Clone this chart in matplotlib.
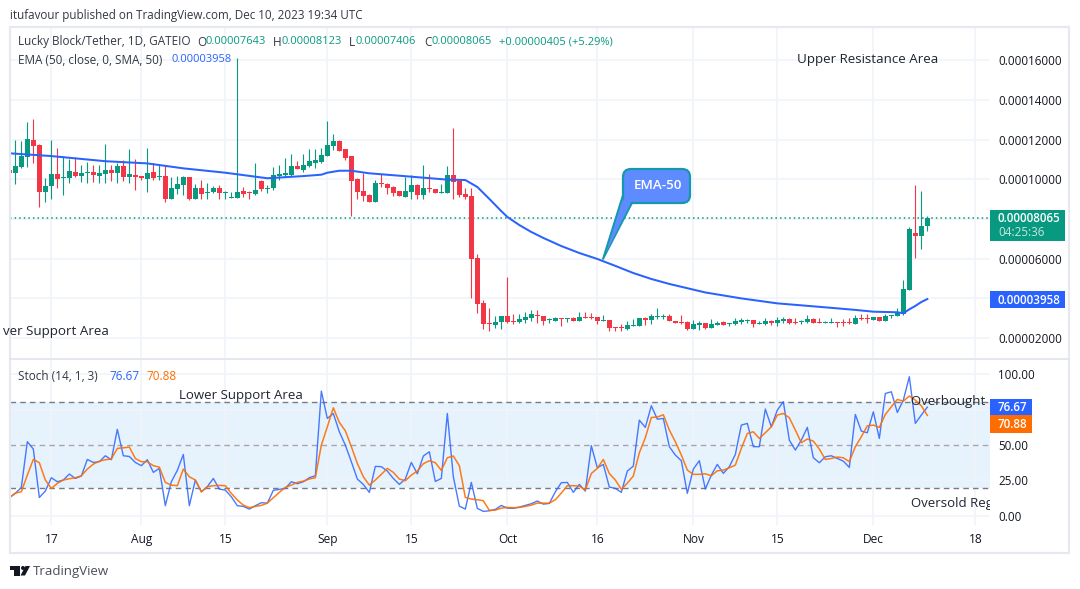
import pandas as pd
import matplotlib
matplotlib.use('Agg')
import matplotlib.pyplot as plt
from matplotlib.patches import Rectangle, Circle, FancyBboxPatch, Polygon

plt.rcParams['font.family'] = 'Open Sans'

W, H = 1080, 589
GREEN = '#089981'
RED = '#F23645'
BLUE = '#2962FF'
ORANGE = '#FF6D00'
GRID = '#F0F3FA'
TXT = '#333844'

# prices in millionths, one row per month, Jul 10 to Dec 10 2023
open_e6 = [104.7,103.3,106.4,111.4,119.8,117.3,93.7,96.8,102.7,100.8,100.6,103.7,101.6,103.3,103.7,101.6,102.7,104.7,103.2,106.7,101.1,102.2,
    101.6,100.1,103.7,101.1,101.6,90.0,95.1,97.1,101.1,90.0,95.6,93.1,93.6,95.6,93.2,90.7,90.5,94.1,93.7,92.6,99.1,95.1,95.6,101.6,102.2,102.2,106.7,104.7,106.7,108.2,108.7,
    111.7,116.8,119.3,115.3,111.7,100.1,94.1,92.1,88.5,98.1,97.6,96.1,94.1,91.1,93.6,97.1,92.1,95.6,95.1,93.2,93.1,102.2,99.1,92.6,91.6,60.3,37.6,27.5,26.5,28.0,
    31.0,28.5,28.0,29.0,30.0,31.5,31.0,29.0,28.5,30.0,29.5,30.0,28.5,30.5,30.5,30.5,28.7,29.0,25.5,25.5,24.5,26.2,26.0,30.0,29.0,30.5,30.7,31.0,28.5,28.0,28.0,
    24.5,26.5,27.5,25.0,26.5,28.0,27.0,27.0,28.0,28.5,29.0,27.2,27.0,28.5,27.5,28.5,29.5,28.0,28.0,28.0,29.5,28.0,27.5,27.5,28.0,28.0,28.0,27.0,30.0,29.8,
    29.0,30.5,28.5,31.0,31.0,32.0,44.2,72.9,71.4,76.43]
close_e6 = [103.3,106.7,111.7,120.3,117.0,93.7,96.6,102.7,100.1,101.1,104.2,101.6,103.2,103.7,102.2,103.2,104.7,103.2,106.7,101.1,102.7,101.1,
    100.6,103.2,100.6,101.6,90.0,95.6,97.6,101.1,90.0,95.6,92.6,93.6,95.6,93.1,93.7,91.1,93.6,92.6,93.2,94.6,95.1,95.6,102.2,102.7,103.2,106.7,105.2,107.2,109.2,109.7,112.2,
    117.3,119.3,114.3,110.7,99.1,93.6,91.6,88.5,98.1,97.6,95.6,93.1,91.6,94.1,97.1,92.1,95.6,95.1,93.1,93.6,102.2,98.6,92.1,91.1,59.8,37.1,27.0,27.0,28.0,31.0,
    28.0,28.0,29.5,30.5,32.0,31.2,28.5,29.5,30.0,29.5,30.0,28.5,30.5,30.0,30.0,28.5,29.0,25.0,25.0,25.0,26.5,26.5,30.0,29.0,31.0,31.0,31.2,28.5,27.5,27.5,24.5,
    27.0,27.5,25.0,27.0,27.5,26.5,27.3,28.5,29.0,29.0,27.0,27.5,28.5,27.5,29.0,29.5,27.5,27.5,28.5,29.5,27.5,27.5,28.0,27.8,27.7,27.5,27.5,30.0,29.5,29.3,
    30.5,28.5,31.0,31.5,32.5,44.7,74.9,71.4,76.4,80.65]
high_e6 = [104.7,119.8,119.3,128.9,130.4,117.8,100.5,119.8,115.8,111.7,110.1,111.4,107.2,108.7,107.2,107.2,117.8,107.2,108.4,109.7,115.3,110.2,
    101.6,115.8,108.0,107.7,107.2,101.1,101.6,101.6,101.1,97.6,99.6,98.1,96.6,97.1,94.3,93.6,161.2,96.1,94.3,108.2,99.6,97.1,106.4,107.2,110.7,112.8,109.2,112.8,115.3,115.3,115.8,
    129.4,122.8,119.8,115.3,111.7,100.6,103.2,92.6,99.6,102.7,98.1,96.6,94.1,101.1,102.2,97.6,107.2,102.7,95.1,97.6,106.7,125.9,99.6,95.6,95.6,62.3,39.1,35.1,31.0,31.0,
    50.7,32.0,32.0,33.1,34.1,34.1,31.0,30.0,30.5,30.0,30.0,30.5,33.1,33.1,32.5,30.5,31.5,29.0,25.5,27.0,28.5,29.5,30.0,30.5,32.0,35.1,32.0,32.0,28.5,31.5,28.5,
    29.0,28.5,27.5,29.5,28.5,28.5,27.7,30.0,30.0,29.5,29.0,28.5,30.0,29.0,30.5,30.5,30.0,30.0,29.0,31.5,30.0,30.0,28.5,30.0,28.0,29.5,30.0,31.5,32.0,32.0,
    30.5,30.5,32.0,31.5,35.1,49.2,75.9,97.1,94.1,81.23]
low_e6 = [103.3,97.6,105.5,106.4,108.0,86.2,88.7,90.0,95.6,92.1,98.3,101.0,98.6,98.3,98.6,98.3,98.3,99.1,98.3,99.1,98.3,94.6,
    99.6,93.6,99.6,99.6,88.7,90.0,92.6,92.1,89.5,90.0,90.0,90.0,93.1,90.0,90.0,90.4,90.5,91.1,90.0,92.1,94.1,93.1,94.6,99.6,101.0,101.6,105.2,103.7,106.0,105.7,108.0,
    111.7,114.8,114.3,109.7,81.5,90.0,89.0,88.5,88.5,96.1,92.6,91.6,91.6,91.1,90.0,90.0,90.0,93.6,93.1,93.1,93.1,90.0,91.1,90.0,40.1,32.5,24.4,23.6,25.0,24.5,
    27.5,27.0,27.5,27.5,28.5,27.5,26.5,27.5,28.5,26.0,28.0,28.5,28.5,30.0,29.5,27.0,28.5,23.5,23.5,23.5,24.0,26.2,26.0,26.5,27.0,29.5,29.5,28.5,27.5,27.0,24.0,
    24.5,24.0,24.5,25.0,26.5,26.5,26.0,26.5,27.0,27.5,25.5,27.0,26.5,26.5,26.0,27.5,27.0,27.0,27.0,27.5,27.5,27.5,27.5,27.5,25.5,26.0,27.0,27.0,29.0,27.5,
    29.0,28.5,28.5,30.0,31.0,31.5,44.2,60.3,64.8,74.06]

# ema read at a set of dates
ema_dates = ['2023-07-10','2023-07-17','2023-07-26','2023-08-02','2023-08-08','2023-08-15','2023-08-22','2023-08-28','2023-08-31',
    '2023-09-01','2023-09-03','2023-09-05','2023-09-08','2023-09-15','2023-09-21','2023-09-24','2023-09-26','2023-09-28','2023-09-30',
    '2023-10-01','2023-10-03','2023-10-05','2023-10-07','2023-10-10','2023-10-13','2023-10-16','2023-10-19','2023-10-22','2023-10-25','2023-10-28',
    '2023-11-03','2023-11-09','2023-11-15','2023-11-23','2023-11-28',
    '2023-12-01','2023-12-05','2023-12-06','2023-12-07','2023-12-08','2023-12-09','2023-12-10']
ema_e6 = [113.1,111.7,109.1,108.0,105.5,103.3,100.5,101.6,102.3,
    103.3,104.3,104.3,103.0,101.3,99.8,99.6,96.1,90.1,83.9,
    81.0,76.9,73.4,70.4,66.3,62.8,59.8,56.3,52.7,49.7,47.2,
    42.9,39.9,37.4,35.4,34.1,
    33.2,32.9,32.4,34.4,36.1,38.1,39.58]

stoch_k = [12.8,15.9,20.1,52.3,47.1,13.0,17.5,26.9,24.1,25.3,29.5,26.4,28.1,39.8,37.7,38.2,42.4,39.6,61.0,42.4,41.9,37.7,
    35.4,39.6,30.7,33.5,7.2,24.1,32.1,43.3,7.2,25.3,17.0,20.6,26.4,18.9,18.2,13.5,7.2,6.7,4.8,7.2,9.3,9.0,18.0,18.7,19.4,24.1,22.7,24.1,26.9,28.3,88.0,
    68.7,72.2,59.3,49.9,38.2,26.0,22.2,16.6,34.9,34.7,31.6,26.4,22.2,26.0,37.7,29.7,42.2,45.2,24.3,26.4,72.2,27.6,6.9,4.8,23.6,5.3,3.2,3.6,4.6,7.4,
    5.5,5.3,6.2,7.4,8.6,10.5,8.3,8.8,17.0,23.4,23.6,16.6,22.2,17.5,49.5,33.9,36.3,20.3,19.4,16.6,31.6,35.1,67.5,62.4,77.6,68.2,68.7,48.8,42.9,38.9,15.9,
    33.0,38.9,18.9,28.8,36.3,30.0,34.7,43.3,64.0,65.2,48.8,48.8,75.3,62.8,74.6,80.5,53.4,46.4,53.4,62.4,41.0,37.5,41.7,42.4,40.5,38.6,34.2,71.5,59.8,58.6,
    73.4,54.6,86.3,87.5,72.9,81.6,98.1,65.2,71.1,76.67]
stoch_d = [12.8,16.1,17.0,28.8,39.8,37.5,25.3,19.4,22.9,25.3,26.2,26.9,28.3,33.0,36.5,38.6,39.6,40.1,47.6,48.0,48.5,40.5,
    38.2,38.2,35.4,34.4,23.6,21.7,21.3,33.0,27.6,25.3,17.0,20.6,21.3,21.5,21.3,15.9,11.2,7.6,5.8,6.7,7.4,9.0,12.8,16.6,20.1,21.7,23.6,24.5,26.0,26.9,49.9,
    62.8,76.2,65.9,60.0,48.8,37.0,27.6,21.7,25.3,29.3,33.5,30.7,26.0,24.8,28.8,31.6,36.8,38.9,37.5,32.1,41.0,42.2,35.4,13.0,11.9,11.4,10.7,3.9,4.1,5.5,
    6.0,5.8,6.0,6.7,7.6,9.0,9.0,9.0,11.4,16.1,21.3,21.3,21.0,18.2,29.9,33.5,39.8,29.9,25.3,18.7,23.1,28.1,44.5,55.1,69.4,69.7,71.3,60.5,52.3,42.9,32.3,
    29.3,29.3,29.7,28.3,31.8,32.3,33.9,35.8,47.6,58.1,59.3,54.6,58.6,62.8,71.1,72.2,69.2,60.5,51.6,54.2,52.7,47.1,39.8,40.5,41.5,41.0,38.2,48.8,55.8,63.5,
    64.0,62.4,71.5,76.9,82.1,80.9,84.5,81.6,77.6,70.88]

x_tick_dates = ['2023-07-17','2023-08-01','2023-08-15','2023-09-01','2023-09-15','2023-10-01','2023-10-16','2023-11-01','2023-11-15','2023-12-01','2023-12-18']
x_tick_labels = ['17','Aug','15','Sep','15','Oct','16','Nov','15','Dec','18']
price_ticks = [2e-5, 4e-5, 6e-5, 8e-5, 10e-5, 12e-5, 14e-5, 16e-5]
price_labels = ['0.00002000', '', '0.00006000', '', '0.00010000', '0.00012000', '0.00014000', '0.00016000']
stoch_ticks = [0, 25, 50, 75, 100]
stoch_labels = ['0.00', '25.00', '50.00', '', '100.00']

days = pd.date_range('2023-07-10', '2023-12-10')
t0 = days[0]
x = list((days - t0).days)
ema_x = [(pd.Timestamp(d) - t0).days for d in ema_dates]
tick_x = [(pd.Timestamp(d) - t0).days for d in x_tick_dates]
e = 1e-6


def pane(left, top, right, bottom):
    return fig.add_axes([left / W, 1 - bottom / H, (right - left) / W, (bottom - top) / H])


fig = plt.figure(figsize=(W / 100, H / 100), dpi=100)
fig.patch.set_facecolor('white')

ax = pane(10, 27, 990, 358)
osc = pane(10, 360, 990, 525)

xlim = ((10 - 9.33) / 6, (990 - 9.33) / 6)
for a, ticks, labels in [(ax, price_ticks, price_labels), (osc, stoch_ticks, stoch_labels)]:
    a.set_xlim(xlim)
    a.set_yticks(ticks)
    a.set_yticklabels(labels)
    a.yaxis.tick_right()
    a.tick_params(axis='y', length=0, pad=5.8, labelsize=8.4, labelcolor='#131722')
    a.tick_params(axis='x', length=0)
    a.grid(True, color=GRID, lw=1.2)
    a.set_axisbelow(True)
    a.set_xticks(tick_x)
    for s in a.spines.values():
        s.set_visible(False)
    a.patch.set_alpha(0)

ax.set_ylim(9.84e-6, 176.8e-6)
ax.set_xticklabels([])
osc.set_ylim(-6.41, 109.9)
osc.set_xticklabels(x_tick_labels, fontsize=8.6, color='#131722')
osc.tick_params(axis='x', pad=5.5)

# candles
colors = [GREEN if c >= o else RED for o, c in zip(open_e6, close_e6)]
wicks = ax.vlines(x, [v * e for v in low_e6], [v * e for v in high_e6], colors=colors, lw=0.8, zorder=2)
wicks.set_snap(True)
bot = [min(o, c) * e for o, c in zip(open_e6, close_e6)]
hgt = [max(abs(c - o), 0.5) * e for o, c in zip(open_e6, close_e6)]
ax.bar(x, hgt, bottom=bot, width=0.82, color=colors, lw=0, zorder=3)
ax.plot(ema_x, [v * e for v in ema_e6], color=BLUE, lw=1.45, zorder=4)
ax.axhline(close_e6[-1] * e, color=GREEN, lw=1.1, ls=(0, (1, 2)), zorder=1)

# oscillator
osc.axhspan(20, 80, color='#2196F3', alpha=0.11, lw=0, zorder=0)
for level, col in [(80, '#787B86'), (50, '#A3A6AF'), (20, '#787B86')]:
    osc.axhline(level, color=col, lw=1, ls=(0, (4, 3)), zorder=1)
osc.plot(x, stoch_k, color=BLUE, lw=1, alpha=0.85, zorder=3)
osc.plot(x, stoch_d, color=ORANGE, lw=1.1, alpha=0.9, zorder=4)

# overlay in pixel coordinates for frame, texts and tags
ov = fig.add_axes([0, 0, 1, 1], zorder=10)
ov.set_xlim(0, W)
ov.set_ylim(H, 0)
ov.axis('off')
ov.patch.set_alpha(0)

ov.add_patch(Rectangle((9.5, 26.5), 1059.5, 526.5, fc='none', ec='#E7E9F0', lw=1.6))
ov.plot([10, 1069], [359, 359], color='#E0E3EB', lw=1.2)


def label(px, py, s, col=TXT, size=8.6, **kw):
    return ov.text(px, py + 1, s, color=col, fontsize=size, va='center', **kw)


label(10, 15, 'itufavour published on TradingView.com, Dec 10, 2023 19:34 UTC', size=8.35)
label(18, 41, 'Lucky Block/Tether, 1D, GATEIO', size=8.5)
for px, s in [(197, 'O'), (273, 'H'), (349, 'L'), (424, 'C')]:
    label(px, 41, s, size=8.5)
for px, s in [(205, '0.00007643'), (281, '0.00008123'), (356, '0.00007406'), (431, '0.00008065'), (499, '+0.00000405 (+5.29%)')]:
    label(px, 41, s, col=GREEN, size=8.0)
label(18, 59, 'EMA (50, close, 0, SMA, 50)', size=8.5)
label(172, 59, '0.00003958', col=BLUE, size=8.0)
label(18, 375, 'Stoch (14, 1, 3)', size=8.5)
label(109, 375, '76.67', col=BLUE, size=8.5)
label(146, 375, '70.88', col=ORANGE, size=8.5)

label(797, 58, 'Upper Resistance Area', col='#1F2430', size=9.65)
label(3, 331, 'ver Support Area', col='#1F2430', size=9.65)
label(179, 394, 'Lower Support Area', col='#1F2430', size=9.5)
clip = Rectangle((0, 0), 990, H, transform=ov.transData)
for py, s in [(400, 'Overbought L'), (502, 'Oversold Reg')]:
    t = label(911, py, s, col='#1F2430', size=9.5)
    t.set_clip_path(clip)
    t.set_clip_on(True)

# callout
ov.add_patch(Polygon([(623, 195), (603, 259), (632, 203)], closed=True, fc='#5E8BFF', ec='#1598AD', lw=1.4, joinstyle='round'))
ov.add_patch(FancyBboxPatch((627, 173), 59, 26, boxstyle='round,pad=4,rounding_size=8', fc='#5E8BFF', ec='#1598AD', lw=1.6))
ov.add_patch(Polygon([(624.5, 197), (606, 253), (631, 201.5)], closed=True, fc='#5E8BFF', ec='none'))
label(634, 184.5, 'EMA-50', col='white', size=9.6, fontweight='semibold')

# right side tags
ov.add_patch(Rectangle((990, 210), 75, 31, fc=GREEN, ec='none'))
label(998, 218, '0.00008065', col='white', size=8.4, fontweight='semibold')
label(998, 232, '04:25:36', col='#C5E6DF', size=8.4)
ov.add_patch(Rectangle((990, 291), 75, 17, fc=BLUE, ec='none'))
label(998, 299, '0.00003958', col='white', size=8.4, fontweight='semibold')
ov.add_patch(Rectangle((990, 399), 42, 16, fc=BLUE, ec='none'))
label(998, 406.5, '76.67', col='white', size=8.4, fontweight='semibold')
ov.add_patch(Rectangle((990, 415), 42, 18, fc=ORANGE, ec='none'))
label(998, 423.5, '70.88', col='white', size=8.4, fontweight='semibold')

# footer logo
ov.add_patch(Rectangle((10, 566), 9.5, 4, fc='#131722', ec='none'))
ov.add_patch(Rectangle((14, 566), 5.5, 9.5, fc='#131722', ec='none'))
ov.add_patch(Circle((23, 568), 2, fc='#131722', ec='none'))
ov.add_patch(Polygon([(25.5, 566), (30, 566), (25, 575.5), (20.5, 575.5)], closed=True, fc='#131722', ec='none'))
label(33, 571, 'TradingView', col='#4A4E59', size=9.5)

fig.savefig('out.png', dpi=100, facecolor='white')
